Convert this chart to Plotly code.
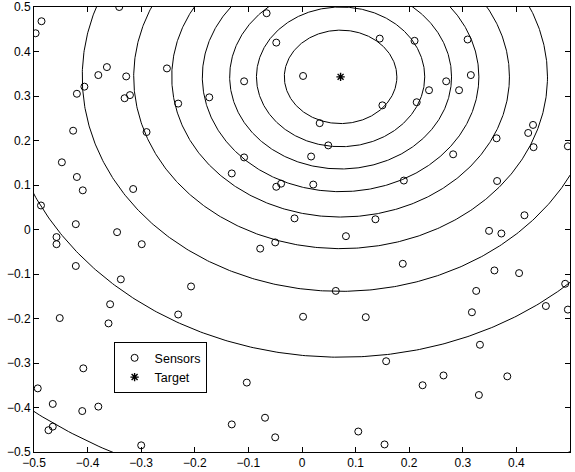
import numpy as np
import plotly.graph_objects as go

# Sensor positions
sensor_x = [-0.497, -0.486, -0.341, -0.252, -0.231, -0.380, -0.364, -0.328, -0.406, -0.420, -0.331, -0.321, -0.427, -0.290,
            -0.066, -0.048, 0.002, -0.108, -0.173, 0.033, 0.049, -0.108, 0.017, 0.145, 0.150,
            0.210, 0.309, 0.315, 0.269, 0.237, 0.293, 0.214, 0.431, 0.422, 0.363, 0.432, 0.496, 0.282,
            -0.448, -0.420, -0.409, -0.315, -0.487, -0.422, -0.345, -0.299, -0.458, -0.458, -0.422, -0.338, -0.207, -0.358,
            -0.131, -0.039, -0.048, 0.021, -0.014, 0.137, 0.082, -0.050, -0.078, 0.063,
            0.190, 0.364, 0.415, 0.349, 0.372, 0.188, 0.359, 0.405, 0.325, 0.491, 0.455, 0.496,
            -0.452, -0.361, -0.231, -0.408, -0.493, -0.465, -0.410, -0.380, -0.465, -0.473, -0.300,
            0.002, 0.119, -0.103, -0.069, -0.131, -0.050, 0.105,
            0.317, 0.332, 0.157, 0.264, 0.225, 0.383, 0.330, 0.154]
sensor_y = [0.441, 0.468, 0.500, 0.362, 0.283, 0.347, 0.365, 0.344, 0.321, 0.305, 0.295, 0.302, 0.222, 0.219,
            0.486, 0.420, 0.345, 0.333, 0.297, 0.239, 0.189, 0.162, 0.164, 0.429, 0.279,
            0.424, 0.427, 0.347, 0.333, 0.313, 0.313, 0.286, 0.235, 0.217, 0.205, 0.185, 0.187, 0.169,
            0.151, 0.118, 0.088, 0.091, 0.054, 0.012, -0.006, -0.033, -0.017, -0.033, -0.082, -0.112, -0.128, -0.168,
            0.126, 0.103, 0.096, 0.101, 0.025, 0.023, -0.015, -0.029, -0.043, -0.138,
            0.110, 0.109, 0.032, -0.003, -0.009, -0.077, -0.092, -0.098, -0.138, -0.122, -0.172, -0.180,
            -0.199, -0.211, -0.191, -0.312, -0.357, -0.392, -0.408, -0.398, -0.443, -0.451, -0.485,
            -0.196, -0.197, -0.344, -0.423, -0.438, -0.467, -0.454,
            -0.186, -0.259, -0.296, -0.328, -0.350, -0.330, -0.372, -0.483]

# Target
target_x = [0.072]
target_y = [0.343]

# Contour radii around the target
contour_radii = [0.105, 0.157, 0.207, 0.258, 0.315, 0.386, 0.482, 0.630, 0.945]

# Axis ticks
tick_vals = [-0.5, -0.4, -0.3, -0.2, -0.1, 0, 0.1, 0.2, 0.3, 0.4, 0.5]
tick_text = ["\u22120.5", "\u22120.4", "\u22120.3", "\u22120.2", "\u22120.1", "0",
             "0.1", "0.2", "0.3", "0.4", "0.5"]

theta = np.linspace(0, 2 * np.pi, 721)
cx, cy = [], []
for r in contour_radii:
    cx.extend(list(target_x[0] + r * np.cos(theta)) + [None])
    cy.extend(list(target_y[0] + r * np.sin(theta)) + [None])

fig = go.Figure()
fig.add_trace(go.Scatter(x=cx, y=cy, mode="lines", line=dict(color="black", width=1),
                         showlegend=False, hoverinfo="skip"))
fig.add_trace(go.Scatter(x=sensor_x, y=sensor_y, mode="markers", name="Sensors",
                         marker=dict(symbol="circle-open", size=7, color="black",
                                     line=dict(color="black", width=1))))
fig.add_trace(go.Scatter(x=target_x, y=target_y, mode="markers", name="Target",
                         marker=dict(symbol="asterisk-open", size=7, color="black",
                                     line=dict(color="black", width=1.4))))

axis_common = dict(showline=True, mirror="ticks", linecolor="black", linewidth=1,
                   ticks="inside", ticklen=5, tickcolor="black", showgrid=False,
                   zeroline=False, tickvals=tick_vals, ticktext=tick_text, automargin=False,
                   tickfont=dict(family="Liberation Sans, Arial, sans-serif", size=12, color="black"))

fig.update_layout(
    width=575, height=472,
    margin=dict(l=34, r=5, t=7, b=20, autoexpand=False),
    paper_bgcolor="white", plot_bgcolor="white",
    xaxis=dict(range=[-0.5, 0.5], ticklabelstandoff=0, **axis_common),
    yaxis=dict(range=[-0.5, 0.5], ticklabelstandoff=0, **axis_common),
    legend=dict(x=0.1485, y=0.2467, xanchor="left", yanchor="top",
                bordercolor="black", borderwidth=1, bgcolor="white",
                font=dict(family="Liberation Sans, Arial, sans-serif", size=12.5, color="black"),
                tracegroupgap=0, itemwidth=30),
    showlegend=True,
)

fig.write_html("out.html", config={"displayModeBar": False},
               post_script="document.body.style.margin='0';document.body.style.padding='0';")
